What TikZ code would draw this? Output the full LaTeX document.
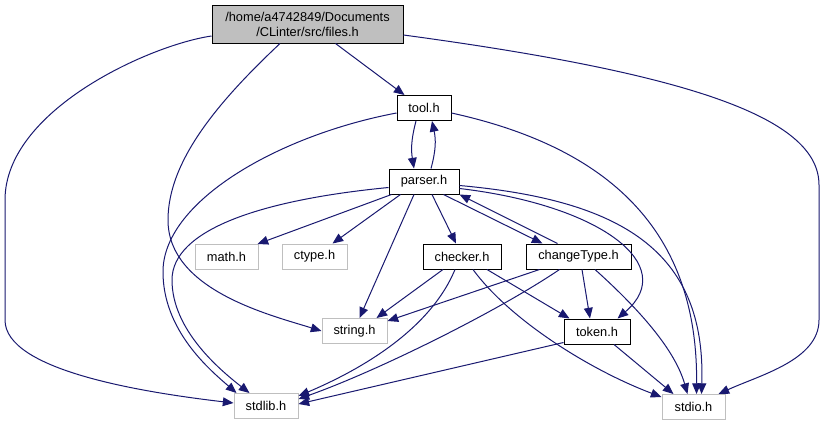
\documentclass[tikz,border=0pt]{standalone}
\usepackage{fontspec}
\setmainfont{Liberation Sans}
\usetikzlibrary{arrows.meta,calc}
\definecolor{edgec}{HTML}{191970}
\definecolor{extc}{HTML}{BFBFBF}
\definecolor{filefill}{HTML}{BFBFBF}
\begin{document}
\begin{tikzpicture}[x=0.75pt,y=-0.75pt,
  box/.style={draw=black, line width=0.75pt, minimum height=18.75pt, inner sep=0pt, font=\fontsize{9.6}{11.25}\selectfont, fill=white},
  ext/.style={box, draw=extc},
  edge/.style={draw=edgec, line width=0.75pt, -{Triangle[length=8pt,width=6.6pt]}}]
\fill[white] (0,0) rectangle (825,425);
\useasboundingbox (0,0) rectangle (825,425);
% nodes
\node[box, fill=filefill, minimum width=143.25pt, minimum height=28.5pt, align=center] (files) at (307.5,24) {/home/a4742849/Documents\\/CLinter/src/files.h};
\node[box, minimum width=40.5pt] (tool) at (424,108) {tool.h};
\node[box, minimum width=52.5pt] (parser) at (424,181.5) {parser.h};
\node[ext, minimum width=47.25pt] (math) at (226.5,257) {math.h};
\node[ext, minimum width=48.75pt] (ctype) at (314.5,256.5) {ctype.h};
\node[box, minimum width=58.5pt] (checker) at (462,256.5) {checker.h};
\node[box, minimum width=78.75pt] (changeType) at (578.5,256.5) {changeType.h};
\node[ext, minimum width=48.75pt] (string) at (354.5,331) {string.h};
\node[box, minimum width=49.5pt] (token) at (597,331.5) {token.h};
\node[ext, minimum width=48pt] (stdlib) at (266,406) {stdlib.h};
\node[ext, minimum width=47.25pt] (stdio) at (693.5,407) {stdio.h};
% edges from files.h
\draw[edge] ($(files.west)+(0,12)$) .. controls (150,45) and (5,110) .. (5,200) -- (5,320) .. controls (5,370) and (140,392) .. ($(stdlib.west)+(0,-3)$);
\draw[edge] ($(files.south)+(-27.5,0)$) .. controls (220,100) and (168,160) .. (168,220) .. controls (168,290) and (270,315) .. ($(string.west)+(0,0)$);
\draw[edge] ($(files.south)+(28,0)$) -- ($(tool.north west)+(8,0)$);
\draw[edge] ($(files.east)+(0,11)$) .. controls (700,75) and (819,120) .. (819,185) -- (819,320) .. controls (819,360) and (760,375) .. ($(stdio.north east)+(-7,0)$);
% tool.h
\draw[edge] ($(tool.south)+(-8,0)$) .. controls (411,140) and (411,150) .. ($(parser.north)+(-10,0)$);
\draw[edge] ($(tool.west)+(0,5)$) .. controls (280,135) and (165,200) .. (163,270) .. controls (162,330) and (210,370) .. ($(stdlib.north west)+(3,0)$);
\draw[edge] ($(tool.east)+(0,5)$) .. controls (620,150) and (698,240) .. ($(stdio.north)+(3,0)$);
% parser.h
\draw[edge] ($(parser.north)+(7,0)$) .. controls (436,150) and (436,140) .. ($(tool.south)+(8,0)$);
\draw[edge] ($(parser.west)+(0,6)$) .. controls (260,200) and (172,230) .. (172,280) .. controls (172,330) and (220,370) .. ($(stdlib.north west)+(16,0)$);
\draw[edge] ($(parser.south west)+(3,0)$) -- ($(math.north east)+(-1,0)$);
\draw[edge] ($(parser.south west)+(12,0)$) -- ($(ctype.north)+(18,0)$);
\draw[edge] ($(parser.south)+(-10,0)$) -- ($(string.north)+(5,0)$);
\draw[edge] ($(parser.south)+(8,0)$) -- ($(checker.north)+(-6,0)$);
\draw[edge] ($(parser.south east)+(-16,0)$) -- ($(changeType.north west)+(17,0)$);
\draw[edge] ($(parser.east)+(0,7)$) .. controls (600,205) and (680,265) .. ($(token.north east)+(-13,0)$);
\draw[edge] ($(parser.east)+(0,4)$) .. controls (620,200) and (706,250) .. ($(stdio.north)+(8,0)$);
% changeType.h
\draw[edge] ($(changeType.north west)+(32,0)$) -- (parser.south east);
\draw[edge] ($(changeType.south west)+(14,0)$) -- ($(string.north east)+(0,3)$);
\draw[edge] ($(changeType.south west)+(34,0)$) .. controls (500,310) and (380,370) .. ($(stdlib.east)+(0,-7)$);
\draw[edge] ($(changeType.south)+(3.5,0)$) -- ($(token.north)+(-7,0)$);
\draw[edge] ($(changeType.south)+(16.5,0)$) .. controls (640,310) and (675,350) .. ($(stdio.north)+(-6,0)$);
% checker.h
\draw[edge] ($(checker.south)+(-19,0)$) -- ($(string.north east)+(-11,0)$);
\draw[edge] ($(checker.south)+(-7,0)$) .. controls (430,330) and (360,370) .. ($(stdlib.east)+(0,-10)$);
\draw[edge] ($(checker.south)+(25,0)$) -- ($(token.north west)+(6,0)$);
\draw[edge] ($(checker.south)+(11,0)$) .. controls (510,320) and (590,370) .. ($(stdio.west)+(0,-10)$);
% token.h
\draw[edge] ($(token.south west)+(0,-2)$) -- ($(stdlib.east)+(0,-2)$);
\draw[edge] ($(token.south)+(17,0)$) -- ($(stdio.north west)+(12,0)$);
\end{tikzpicture}
\end{document}
